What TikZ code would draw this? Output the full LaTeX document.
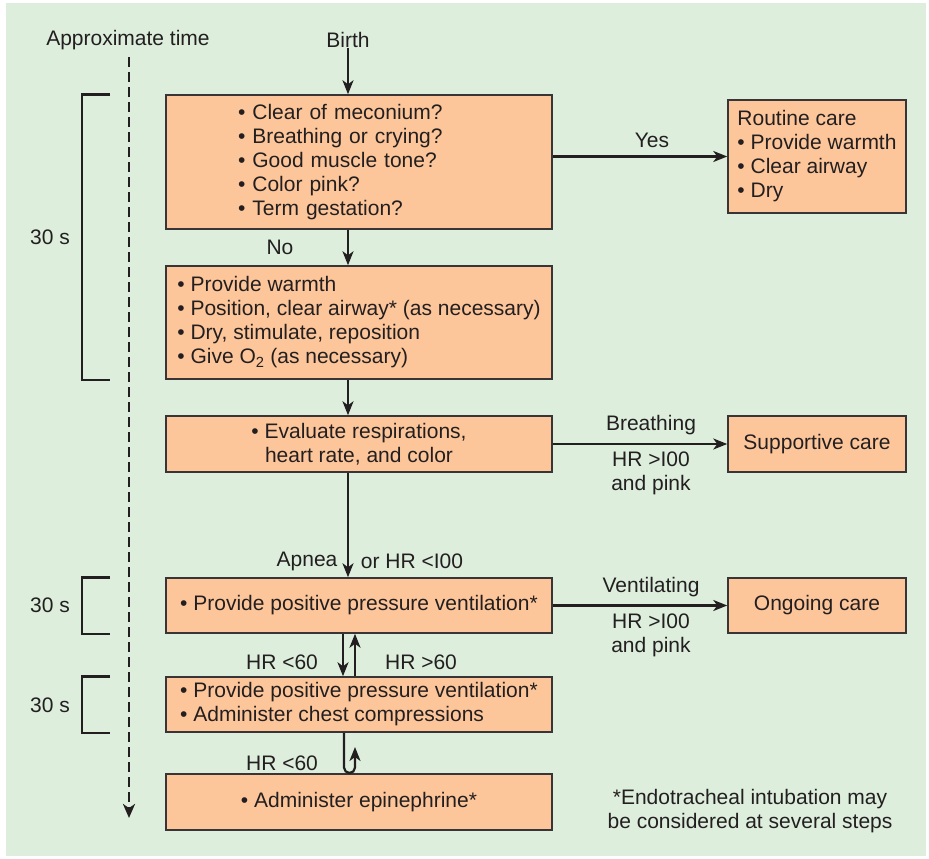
\documentclass[tikz,border=0pt]{standalone}
\usepackage{fontspec}
\setmainfont{Liberation Sans}
\usetikzlibrary{arrows.meta}
\definecolor{bggreen}{RGB}{221,238,221}
\definecolor{boxfill}{RGB}{253,198,154}
\definecolor{ink}{RGB}{35,31,32}
\begin{document}
\begin{tikzpicture}[x=1pt,y=-1pt,
  font=\fontsize{21}{24}\selectfont, text=ink,
  box/.style={draw=ink!90, line width=1.5pt, fill=boxfill, minimum width=386pt, inner sep=0pt, align=left},
  sidebox/.style={box, minimum width=178pt},
  arr/.style={line width=2.2pt, draw=ink, -{Stealth[length=14pt,width=11pt,inset=4pt]}},
  lbl/.style={inner sep=0pt},
  brk/.style={line width=2.5pt, draw=ink},
  timeline/.style={line width=2.6pt, draw=ink, dash pattern=on 10pt off 5pt, -{Stealth[length=14pt,width=12pt,inset=4pt]}}]
\useasboundingbox (0,0) rectangle (929,859);
\fill[bggreen] (6,3) rectangle (926,856);

% headers
\node[lbl] (apx) at (128,40) {Approximate time};
\node[lbl] (birth) at (348,40) {Birth};

% main column
\node[box, minimum height=134pt, text width=242pt, inner xsep=72pt] (b1) at (359,162)
  {• Clear of meconium?\\• Breathing or crying?\\• Good muscle tone?\\• Color pink?\\• Term gestation?};
\node[box, minimum height=113pt] (b2) at (359,322.5)
  {• Provide warmth\\• Position, clear airway* (as necessary)\\• Dry, stimulate, reposition\\• Give O\textsubscript{2} (as necessary)};
\node[box, minimum height=56pt, align=center] (b3) at (359,444)
  {• Evaluate respirations,\\heart rate, and color};
\node[box, minimum height=55pt] (b4) at (359,605.5)
  {• Provide positive pressure ventilation*};
\node[box, minimum height=55pt] (b5) at (359,704.5)
  {• Provide positive pressure ventilation*\\• Administer chest compressions};
\node[box, minimum height=56pt, align=center] (b6) at (359,802)
  {• Administer epinephrine*};

% side column
\node[sidebox, minimum height=113pt] (routine) at (817,156.5)
  {Routine care\\• Provide warmth\\• Clear airway\\• Dry};
\node[sidebox, minimum height=56pt, align=center] (supp) at (817,444) {Supportive care};
\node[sidebox, minimum height=55pt, align=center] (ongo) at (817,605.5) {Ongoing care};

% footnote
\node[lbl, align=center] (note) at (750,811)
  {*Endotracheal intubation may\\be considered at several steps};

% helper coordinates
\coordinate (dn) at (343,0);
\coordinate (up) at (355,0);
\coordinate (udn) at (344,0);
\coordinate (ubot) at (350,773);
\coordinate (uend) at (355,747);
\coordinate (tstart) at (129,57);
\coordinate (tend) at (129,818);
\coordinate (brl) at (82,0);
\coordinate (brr) at (110,0);

% connectors
\draw[arr] (birth) -- (b1.north -| birth);
\draw[arr] (b1.south -| birth) -- (b2.north -| birth);
\draw[arr] (b2.south -| birth) -- (b3.north -| birth);
\draw[arr] (b3.south -| birth) -- (b4.north -| birth);
\draw[arr] (routine.west -| b1.east) -- (routine.west);
\draw[arr] (b3.east) -- (supp.west);
\draw[arr] (b4.east) -- (ongo.west);
\draw[arr] (b4.south -| dn) -- (b5.north -| dn);
\draw[arr] (b5.north -| up) -- (b4.south -| up);
\draw[arr, rounded corners=5.5pt] (b5.south -| udn) -- (ubot -| udn) -- (ubot -| up) -- (uend);

% timeline
\draw[timeline] (tstart) -- (tend);

% brackets
\draw[brk] (b1.north -| brr) -- (b1.north -| brl) -- (b2.south -| brl) -- (b2.south -| brr);
\draw[brk] (b4.north -| brr) -- (b4.north -| brl) -- (b4.south -| brl) -- (b4.south -| brr);
\draw[brk] (b5.north -| brr) -- (b5.north -| brl) -- (b5.south -| brl) -- (b5.south -| brr);
\node[lbl] (t1) at (50,237) {30 s};
\node[lbl] (t2) at (50,605) {30 s};
\node[lbl] (t3) at (50,705) {30 s};

% labels
\node[lbl] (yes) at (652,140) {Yes};
\node[lbl] (no) at (280,247) {No};
\node[lbl] (breath) at (651,425) {Breathing};
\node[lbl, align=center] (hr1) at (651,473) {HR >I00\\and pink};
\node[lbl] (apnea) at (307,561) {Apnea};
\node[lbl] (orhr) at (412,561) {or HR <I00};
\node[lbl] (vent) at (651,587) {Ventilating};
\node[lbl, align=center] (hr2) at (651,635) {HR >I00\\and pink};
\node[lbl] (hrl1) at (282,662) {HR <60};
\node[lbl] (hrg) at (421,662) {HR >60};
\node[lbl] (hrl2) at (282,763) {HR <60};
\end{tikzpicture}
\end{document}
